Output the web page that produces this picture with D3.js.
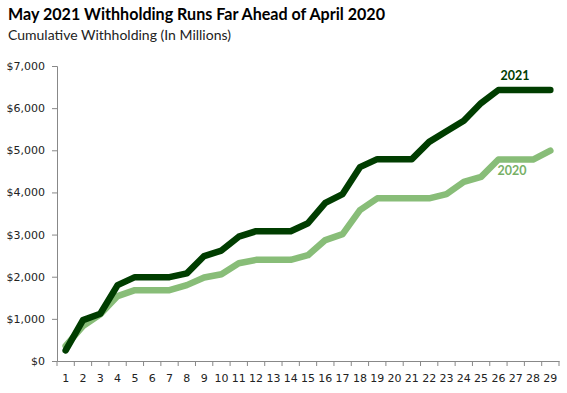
<!DOCTYPE html>
<html><head><meta charset="utf-8">
<script src="https://cdn.jsdelivr.net/npm/d3@7"></script>
<style>body{margin:0;background:#fff}svg{display:block}</style>
</head><body>
<svg id="c" width="567" height="393"></svg>
<script>
const days = d3.range(1, 30).map(String);
const values2021 = [250,970,1120,1800,1990,1990,1990,2080,2490,2620,2950,3080,3080,3080,3270,3750,3960,4600,4790,4790,4790,5200,5450,5700,6120,6430,6430,6430,6430];
const values2020 = [360,830,1110,1540,1680,1680,1680,1800,1980,2060,2320,2400,2400,2400,2510,2870,3010,3580,3860,3860,3860,3860,3960,4250,4370,4780,4780,4780,4990];
const yTicks = [0,1000,2000,3000,4000,5000,6000,7000];
const title = "May 2021 Withholding Runs Far Ahead of April 2020";
const subtitle = "Cumulative Withholding (In Millions)";

const svg = d3.select("#c");
const L = 57, R = 559, T = 66, B = 361;
const x = d3.scaleBand().domain(days).range([L, R]);
const y = d3.scaleLinear().domain([0, 7000]).range([B, T]);

svg.append("text").attr("x", 8).attr("y", 20).attr("font-family", "Lato, 'Open Sans', sans-serif")
  .attr("font-weight", "bold").attr("font-size", 16.1).attr("fill", "#000").text(title);
svg.append("text").attr("x", 8).attr("y", 40).attr("font-family", "Lato, 'Open Sans', sans-serif")
  .attr("font-size", 14).attr("fill", "#222").text(subtitle);

const fmt = d => "$" + d3.format(",")(d);
const yAxis = svg.append("g").attr("transform", `translate(${L},0)`)
  .call(d3.axisLeft(y).tickValues(yTicks).tickFormat(fmt).tickSizeOuter(0).tickSize(5).tickPadding(7));
const xAxis = svg.append("g").attr("transform", `translate(0,${B})`)
  .call(d3.axisBottom(x).tickSize(0).tickPadding(13));
[yAxis, xAxis].forEach(g => {
  g.select(".domain").attr("stroke", "#888");
  g.selectAll(".tick line").attr("stroke", "#888");
  g.selectAll("text").attr("font-family", "'DejaVu Sans', Verdana, sans-serif").attr("font-size", 11).attr("fill", "#222");
});
// boundary ticks on x axis
const bounds = days.map(d => x(d)).concat([R]);
svg.append("g").selectAll("line").data(bounds).join("line")
  .attr("x1", d => d).attr("x2", d => d).attr("y1", B).attr("y2", B + 5).attr("stroke", "#888");

const line = d3.line().x((d, i) => x(days[i]) + x.bandwidth() / 2).y(d => y(d));
svg.append("path").datum(values2020).attr("d", line).attr("fill", "none")
  .attr("stroke", "#88bd78").attr("stroke-width", 6.5).attr("stroke-linejoin", "round").attr("stroke-linecap", "round");
svg.append("path").datum(values2021).attr("d", line).attr("fill", "none")
  .attr("stroke", "#003d00").attr("stroke-width", 6.5).attr("stroke-linejoin", "round").attr("stroke-linecap", "round");

svg.append("text").attr("x", 515).attr("y", 80).attr("text-anchor", "middle")
  .attr("font-family", "Lato, 'Open Sans', sans-serif").attr("font-weight", "bold").attr("font-size", 12.5)
  .attr("fill", "#003d00").text("2021");
svg.append("text").attr("x", 512).attr("y", 175).attr("text-anchor", "middle")
  .attr("font-family", "Lato, 'Open Sans', sans-serif").attr("font-weight", "bold").attr("font-size", 12.5)
  .attr("fill", "#77b066").text("2020");
</script>
</body></html>
